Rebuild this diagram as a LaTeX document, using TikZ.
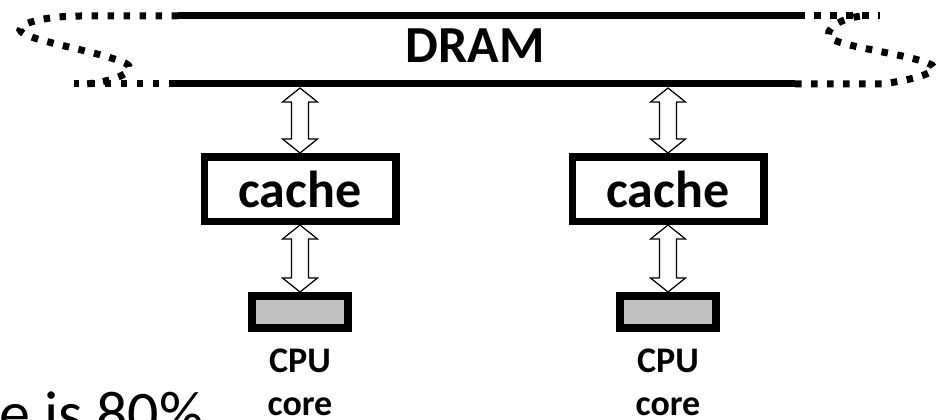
\documentclass[tikz,border=0pt]{standalone}
\usepackage{fontspec}
\setmainfont{Carlito}
\usetikzlibrary{calc}
\definecolor{cpugray}{HTML}{C0C0C0}
\newcommand\hollowarrow[2]{%
  \draw[hollowarr] (#1) -- ($(#1)+(17.5,14)$) -- ($(#1)+(8.5,14)$) -- ($(#2)+(8.5,-14)$) -- ($(#2)+(17.5,-14)$) -- (#2) -- ($(#2)+(-17.5,-14)$) -- ($(#2)+(-8.5,-14)$) -- ($(#1)+(-8.5,14)$) -- ($(#1)+(-17.5,14)$) -- cycle;}
\begin{document}
\begin{tikzpicture}[x=1pt,y=-1pt,
  bus/.style={line width=7pt},
  busdots/.style={line width=7pt, dash pattern=on 6.5pt off 9.5pt},
  cachebox/.style={draw, line width=7.5pt, minimum width=191.5pt, minimum height=64.5pt, inner sep=0pt, font=\bfseries\fontsize{52}{60}\selectfont},
  cpubox/.style={draw, fill=cpugray, line width=8pt, minimum width=96pt, minimum height=32pt, inner sep=0pt},
  lbl/.style={inner sep=0pt, anchor=base, font=\bfseries\fontsize{36}{40}\selectfont},
  hollowarr/.style={draw=black, fill=white, line width=1.2pt, line join=miter}]
\path[use as bounding box, clip] (0,0) rectangle (951,420);
% DRAM bus
\draw[bus] (178,16) -- (798,16);
\draw[bus] (175,84) -- (795,84);
\draw[busdots] (178,16) -- (80,16) .. controls (50,16) and (20,22) .. (20,30) .. controls (22,40) and (95,50) .. (125,63) .. controls (140,70) and (115,82) .. (85,84);
\draw[busdots] (175,84) -- (74,84);
\draw[busdots] (798,16) -- (880,16);
\draw[busdots] (795,84) -- (882,84) .. controls (912,80) and (942,72) .. (932,65) .. controls (910,54) and (845,48) .. (830,38) .. controls (823,30) and (840,18) .. (862,16);
\node[inner sep=0pt, anchor=base, font=\bfseries\fontsize{52}{60}\selectfont] (dram) at (475,63) {DRAM};
\coordinate (busA) at (300,88);
\coordinate (busB) at (668,88);
% caches
\node[cachebox] (cacheA) at (300,189) {cache};
\node[cachebox] (cacheB) at (668,189) {cache};
% cpus
\node[cpubox] (cpuA) at (300,312) {};
\node[cpubox] (cpuB) at (668,312) {};
\node[lbl] (cpuAl1) at (300,372) {CPU};
\node[lbl] (cpuAl2) at (300,415) {core};
\node[lbl] (cpuBl1) at (668,372) {CPU};
\node[lbl] (cpuBl2) at (668,415) {core};
% arrows
\hollowarrow{busA}{cacheA.north}
\hollowarrow{busB}{cacheB.north}
\hollowarrow{cacheA.south}{cpuA.north}
\hollowarrow{cacheB.south}{cpuB.north}
% partial text
\node[inner sep=0pt, anchor=base west, font=\fontsize{62}{70}\selectfont] (note) at (-1,434) {e is 80\%};
\end{tikzpicture}
\end{document}
